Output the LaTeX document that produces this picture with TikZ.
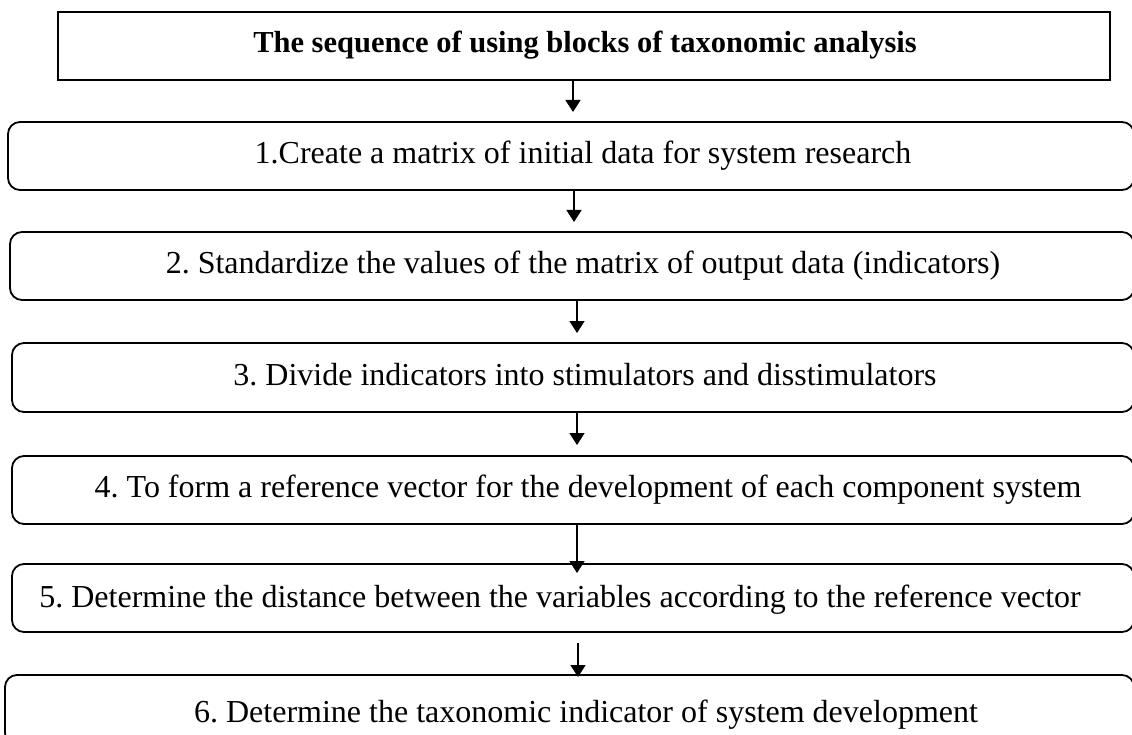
\documentclass[tikz,border=0pt]{standalone}
\usepackage{fontspec}
\setmainfont{Liberation Serif}
\usetikzlibrary{arrows.meta,calc}
\frenchspacing
\begin{document}
\begin{tikzpicture}[x=1pt,y=-1pt,
  box/.style={draw, line width=1.8pt, inner sep=0pt, outer sep=0pt, minimum height=68pt},
  stepbox/.style={box, rounded corners=12pt},
  steptext/.style={anchor=base, inner sep=0pt, font=\fontsize{32}{38}\selectfont},
  arr/.style={line width=1.6pt, -{Triangle[length=12pt,width=15pt]}}]
\useasboundingbox (0,0) rectangle (1132,735);
\clip (0,0) rectangle (1132,735);
\fill[white] (0,0) rectangle (1132,735);

% title block
\node[box, minimum width=1052pt] (b0) at (584,46) {};
\node[steptext, font=\bfseries\fontsize{30.5}{36}\selectfont] (t0) at (585,53)
  {The sequence of using blocks of taxonomic analysis};

% steps (their right ends run to the page edge)
\node[stepbox, minimum width=1126pt] (b1) at (571,156) {};
\node[steptext] (t1) at (583,164) {1.Create a matrix of initial data for system research};

\node[stepbox, minimum width=1124pt] (b2) at (572,266) {};
\node[steptext] (t2) at (583,274) {2. Standardize the values of the matrix of output data (indicators)};

\node[stepbox, minimum width=1122pt, minimum height=69pt] (b3) at (573,377.5) {};
\node[steptext] (t3) at (585,385) {3. Divide indicators into stimulators and disstimulators};

\node[stepbox, minimum width=1122pt] (b4) at (573,490) {};
\node[steptext] (t4) at (588,497) {4. To form a reference vector for the development of each component system};

\node[stepbox, minimum width=1122pt] (b5) at (573,598) {};
\node[steptext] (t5) at (560,607) {5. Determine the distance between the variables according to the reference vector};

\node[stepbox, minimum width=1129pt, minimum height=70pt] (b6) at (569.5,710) {};
\node[steptext] (t6) at (586,722) {6. Determine the taxonomic indicator of system development};

% arrow columns
\coordinate (x1) at (573,0);
\coordinate (x2) at (574,0);
\coordinate (x3) at (577,0);
\coordinate (x4) at (577,0);
\coordinate (x5) at (577,0);
\coordinate (x6) at (578,0);

\draw[arr] (b0.south -| x1) -- ($(b1.north -| x1)+(0,-10)$);
\draw[arr] (b1.south -| x2) -- ($(b2.north -| x2)+(0,-10)$);
\draw[arr] (b2.south -| x3) -- ($(b3.north -| x3)+(0,-10)$);
\draw[arr] (b3.south -| x4) -- ($(b4.north -| x4)+(0,-11)$);
\draw[arr] (b4.south -| x5) -- ($(b5.north -| x5)+(0,9)$);
\draw[arr] ($(b5.south -| x6)+(0,11)$) -- ($(b6.north -| x6)+(0,2)$);
\end{tikzpicture}
\end{document}
